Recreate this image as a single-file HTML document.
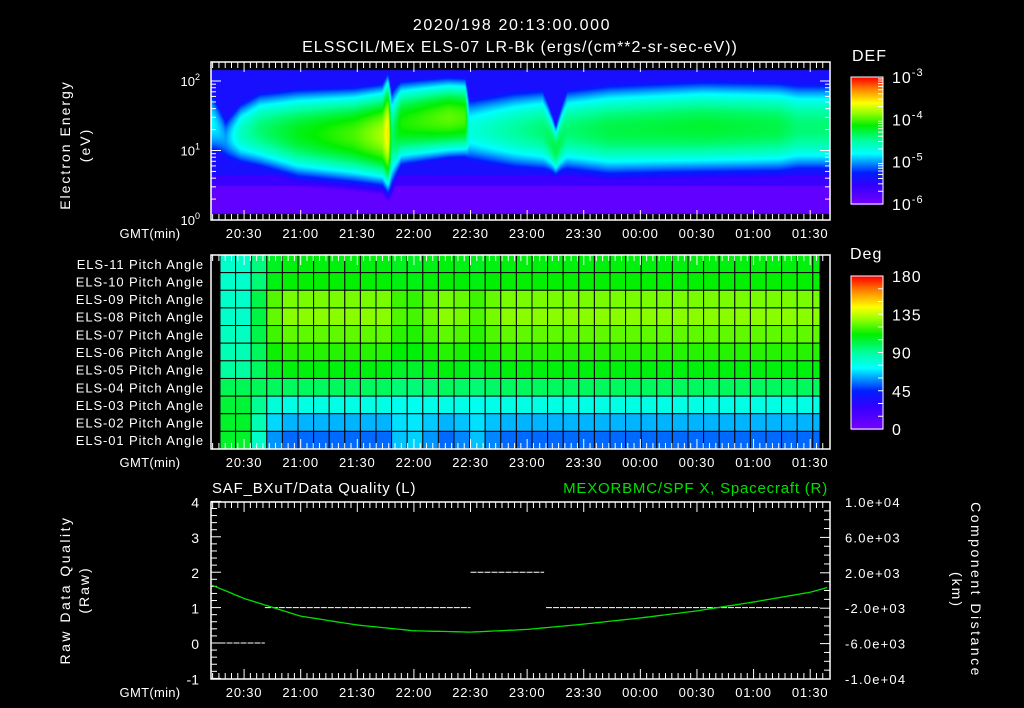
<!DOCTYPE html>
<html><head><meta charset="utf-8"><style>
html,body{margin:0;padding:0;background:#000;}
#wrap{position:relative;width:1024px;height:708px;overflow:hidden;background:#000;}
canvas{position:absolute;left:0;top:0;}
svg{position:absolute;left:0;top:0;}
text{font-family:"Liberation Sans",sans-serif;fill:#fff;}
</style></head><body>
<div id="wrap">
<canvas id="cv" width="1024" height="708"></canvas>
<svg id="sv" width="1024" height="708" xmlns="http://www.w3.org/2000/svg"></svg>
</div>
<script>
// ---- data ----
const timeTickLabels = ["20:30","21:00","21:30","22:00","22:30","23:00","23:30","00:00","00:30","01:00","01:30"];
const timeTickMinutes = [17,47,77,107,137,167,197,227,257,287,317]; // minutes since 20:13
// spectrogram profile per time (minutes since 20:13)
const specTimes  = [0, 7, 15, 25, 45, 75, 90, 93, 95, 100, 125, 134, 136, 160, 175, 182, 188, 210, 260, 300, 310];
const specCore   = [-4.8,-5.0,-4.6,-4.4,-4.2,-4.0,-3.8,-3.5,-4.4,-4.1,-3.95,-4.0,-4.7,-4.5,-4.4,-4.3,-4.4,-4.3,-4.25,-4.3,-4.4];
const specCenter = [25, 15, 18, 20, 18, 17, 17, 18, 15, 25, 30, 30, 20, 20, 20, 10, 20, 20, 22, 22, 22];
const specWidth  = [0.55,0.45,0.5,0.55,0.6,0.6,0.6,0.65,0.7,0.55,0.5,0.5,0.55,0.6,0.6,0.35,0.6,0.64,0.64,0.64,0.64];
// pitch angle panel
const rowLabels = ["ELS-11","ELS-10","ELS-09","ELS-08","ELS-07","ELS-06","ELS-05","ELS-04","ELS-03","ELS-02","ELS-01"];
const rowBase   = [110, 112, 126, 128, 123, 116, 110, 99, 77, 63, 54];
const rowEarly  = [82, 82, 82, 82, 84, 86, 90, 100, 104, 106, 106];
const rowDip    = [106, 108, 114, 116, 112, 108, 104, 94, 74, 72, 72];
const colMix = [1,1,0.55,0.1,0,0,0,0,0,0,0,0,0,0,0,0,0,0,0,0,0,0,0,0,0,0,0,0,0,0,0,0,0,0,0,0,0,0,0];
const colDip = [0,0,0,0,0,0,0,0,0,0,0,0.6,0.7,0.3,0,0.2,0.6,0.2,0,0,0,0,0,0,0,0,0,0,0,0,0,0,0,0,0,0,0,0,0];
// data quality segments [startMin, endMin, value]
const dqStart = [4, 28, 137, 177];
const dqEnd   = [28, 137, 176, 322];
const dqValue = [0, 1, 2, 1];
// spacecraft X component (km)
const posTimes = [0, 17, 47, 77, 107, 137, 167, 197, 227, 257, 287, 317, 327];
const posKm    = [600, -900, -2900, -3900, -4550, -4700, -4400, -3800, -3100, -2300, -1300, -200, 400];
const leftTicks = [4,3,2,1,0,-1];
const rightTickLabels = ["1.0e+04","6.0e+03","2.0e+03","-2.0e+03","-6.0e+03","-1.0e+04"];
const rightTickValues = [10000,6000,2000,-2000,-6000,-10000];

// ---- geometry ----
const X0=211, X1=830;
function xOf(t){return 212 + t*1.887;}
const TOP={y0:62,y1:220};
function yE(logE){return 220 - logE*69.5;}
const MID={y0:255,y1:449};
const BOT={y0:502,y1:679};
function yQ(v){return 643 - v*35.4;}
function yKm(v){return BOT.y0 + (10000-v)/20000*(BOT.y1-BOT.y0);}

const stops=[[0,[120,0,255]],[0.15,[50,0,255]],[0.25,[0,30,255]],[0.33,[0,150,255]],[0.4,[0,255,255]],[0.5,[0,255,160]],[0.62,[0,240,0]],[0.72,[150,255,0]],[0.8,[255,255,0]],[0.9,[255,140,0]],[1,[255,0,0]]];
function cmap(f){f=Math.max(0,Math.min(1,f));for(let i=1;i<stops.length;i++){if(f<=stops[i][0]){const a=stops[i-1],b=stops[i];const u=(f-a[0])/(b[0]-a[0]);return a[1].map((c,k)=>Math.round(c+(b[1][k]-c)*u));}}return stops[stops.length-1][1];}
function interp(ts,vs,t){if(t<=ts[0])return vs[0];for(let i=1;i<ts.length;i++){if(t<=ts[i]){const u=(t-ts[i-1])/(ts[i]-ts[i-1]);return vs[i-1]+(vs[i]-vs[i-1])*u;}}return vs[vs.length-1];}

// ---- spectrogram ----
const cv=document.getElementById('cv');const ctx=cv.getContext('2d');
const img=ctx.createImageData(1024,708);
for(let x=211;x<=829;x++){
  const t=(x-212)/1.887;
  const core=interp(specTimes,specCore,t),cen=Math.log10(interp(specTimes,specCenter,t)),w=interp(specTimes,specWidth,t);
  for(let y=70;y<=213;y++){
    const le=(220-y)/69.5;
    const bg= le>0.65 ? -5.4 : (le>0.5 ? -5.6 : -5.85);
    const d=(le-cen)/w;
    let v=Math.max(bg, core - d*d);
    const c=cmap((v+6)/3);
    const i=(y*1024+x)*4;img.data[i]=c[0];img.data[i+1]=c[1];img.data[i+2]=c[2];img.data[i+3]=255;
  }
}
ctx.putImageData(img,0,0);
// colorbars
function bar(x,y0,y1){for(let y=y0;y<=y1;y++){const c=cmap((y1-y)/(y1-y0));ctx.fillStyle=`rgb(${c[0]},${c[1]},${c[2]})`;ctx.fillRect(x,y,32,1);}}
bar(851,77,204);bar(851,276,429);

// ---- svg ----
const NS="http://www.w3.org/2000/svg";const sv=document.getElementById('sv');
function el(tag,attrs,parent){const e=document.createElementNS(NS,tag);for(const k in attrs)e.setAttribute(k,attrs[k]);(parent||sv).appendChild(e);return e;}
function txt(s,x,y,size,anchor,fill,parent,ls){const e=el('text',{x:x,y:y,'font-size':size,'text-anchor':anchor||'start'},parent);let st='';if(fill)st+='fill:'+fill+';';st+='letter-spacing:'+(ls===undefined?0.6:ls)+'px;';e.setAttribute('style',st);e.textContent=s;return e;}
function line(x1,y1,x2,y2,stroke,parent){return el('line',{x1:x1,y1:y1,x2:x2,y2:y2,stroke:stroke||'#fff','stroke-width':1},parent);}

const t1=txt("2020/198 20:13:00.000",512,30,16,'middle',null,null,1.6);


const t2=txt("ELSSCIL/MEx ELS-07 LR-Bk  (ergs/(cm**2-sr-sec-eV))",520,52,16,'middle',null,null,1.0);



// pitch angle cells
const gMid=el('g',{});


const rowH=(MID.y1-MID.y0)/rowLabels.length;
for(let c=0;c<colMix.length;c++){
  const xa=220+c*15.6, xb=Math.min(820,xa+15.6);
  if(xa>=820)break;
  for(let r=0;r<rowLabels.length;r++){
    let v=rowBase[r]+colMix[c]*(rowEarly[r]-rowBase[r])+colDip[c]*(rowDip[r]-rowBase[r]);
    const col=cmap(v/180);
    const rc=el('rect',{x:xa,y:MID.y0+r*rowH,width:xb-xa,height:rowH,fill:`rgb(${col[0]},${col[1]},${col[2]})`,stroke:'#000','stroke-width':1},gMid);
    
    
  }
}
rowLabels.forEach((l,r)=>{const e=txt(l+" Pitch Angle",204,MID.y0+r*rowH+rowH/2+5,13,'end',null,null,0.9);

});

// frames & time ticks
function frame(p,name){
  const g=el('g',{});
  
  
  el('rect',{x:X0,y:p.y0,width:X1-X0,height:p.y1-p.y0,fill:'none',stroke:'#fff','stroke-width':1.5},g);
  for(let t=17-30;t<=325;t+=30/9){const x=xOf(t);if(x<X0+1||x>X1-1)continue;
    const major=Math.abs(((t-17)/30)-Math.round((t-17)/30))<0.01;const L=major?10:6;
    line(x,p.y1,x,p.y1-L,'#fff',g);line(x,p.y0,x,p.y0+L,'#fff',g);}
  timeTickLabels.forEach((s,i)=>{txt(s,xOf(timeTickMinutes[i]),p.y1+18,13,'middle',null,g,0.8);});
  txt("GMT(min)",150,p.y1+18,13,'middle',null,g,0.3);
}
frame(TOP,'energy-panel-frame');frame(MID,'pitch-panel-frame');frame(BOT,'quality-panel-frame');

// top y axis
const gy=el('g',{});


for(let dec=0;dec<2.2;dec++){for(let m=1;m<10;m++){const le=dec+Math.log10(m);if(le>2.25)break;const y=yE(le);const L=m===1?10:5;line(X0,y,X0+L,y,'#fff',gy);line(X1,y,X1-L,y,'#fff',gy);}}
[0,1,2].forEach(d=>{const tx=txt("10",200,yE(d)+5,13,'end',null,gy,0);const s=el('tspan',{dy:-6,'font-size':9},tx);s.textContent=d;});
const yt=el('text',{transform:'translate(70,145) rotate(-90)','text-anchor':'middle','font-size':14,style:'letter-spacing:2px'});yt.textContent="Electron Energy";


const yt2=el('text',{transform:'translate(90,145) rotate(-90)','text-anchor':'middle','font-size':14,style:'letter-spacing:2px'});yt2.textContent="(eV)";

// colorbars labels
const cb1=el('g',{});


el('rect',{x:851,y:77,width:32,height:127,fill:'none',stroke:'#fff'},cb1);
txt("DEF",852,61,16,'start',null,cb1,1);
[-3,-4,-5,-6].forEach(e=>{const y=77+(-3-e)/3*127;const tx=txt("10",892,y+6,16,'start',null,cb1,1);const s=el('tspan',{dy:-7,'font-size':11},tx);s.textContent=e;});
for(let e=-6;e<-3;e++)for(let m=2;m<10;m++){const y=204-(e+6+Math.log10(m))/3*127;line(883,y,878,y,'#fff',cb1);}
const cb2=el('g',{});


el('rect',{x:851,y:276,width:32,height:153,fill:'none',stroke:'#fff'},cb2);
txt("Deg",850,259,16,'start',null,cb2,1);
[180,135,90,45,0].forEach(v=>{const y=429-v/180*153;txt(String(v),892,y+6,16,'start',null,cb2,1);});
for(let v=15;v<180;v+=15){const y=429-v/180*153;line(883,y,878,y,'#fff',cb2);}

// bottom panel
const gb=el('g',{});


for(let v=-1;v<=4.001;v+=0.2){const y=yQ(v);const major=Math.abs(v-Math.round(v))<0.01;line(X0,y,X0+(major?10:6),y,'#fff',gb);}
leftTicks.forEach(v=>txt(String(v),199,yQ(v)+6,14,'end',null,gb,0));
for(let v=-10000;v<=10000;v+=1000){const y=yKm(v);const major=(v+10000)%4000===0;line(X1,y,X1-(major?10:6),y,'#fff',gb);}
rightTickValues.forEach((v,i)=>txt(rightTickLabels[i],845,yKm(v)+5,13,'start',null,gb,1.2));
const lq=el('text',{transform:'translate(70,590) rotate(-90)','text-anchor':'middle','font-size':14,style:'letter-spacing:2.5px'});lq.textContent="Raw Data Quality";


const lq2=el('text',{transform:'translate(89,590) rotate(-90)','text-anchor':'middle','font-size':14,style:'letter-spacing:2px'});lq2.textContent="(Raw)";
const rq=el('text',{transform:'translate(971,590) rotate(90)','text-anchor':'middle','font-size':14,style:'letter-spacing:2.5px'});rq.textContent="Component Distance";


const rq2=el('text',{transform:'translate(952,590) rotate(90)','text-anchor':'middle','font-size':14,style:'letter-spacing:2px'});rq2.textContent="(km)";
const lt=txt("SAF_BXuT/Data Quality (L)",212,493,15,'start',null,null,0.8);


const rt=txt("MEXORBMC/SPF X, Spacecraft (R)",828,493,15,'end','#00e000',null,0.8);



// data quality dashed segments
dqValue.forEach((v,i)=>{const ln=line(xOf(dqStart[i]),yQ(v),xOf(dqEnd[i]),yQ(v),'#fff');ln.setAttribute('stroke-dasharray','6 1');

});
// position curve
let pts=[];for(let t=0;t<=327;t+=2){pts.push(xOf(t).toFixed(1)+','+yKm(interp(posTimes,posKm,t)).toFixed(1));}
const pl=el('polyline',{points:pts.join(' '),fill:'none',stroke:'#00e000','stroke-width':1.3});


</script>
</body></html>
